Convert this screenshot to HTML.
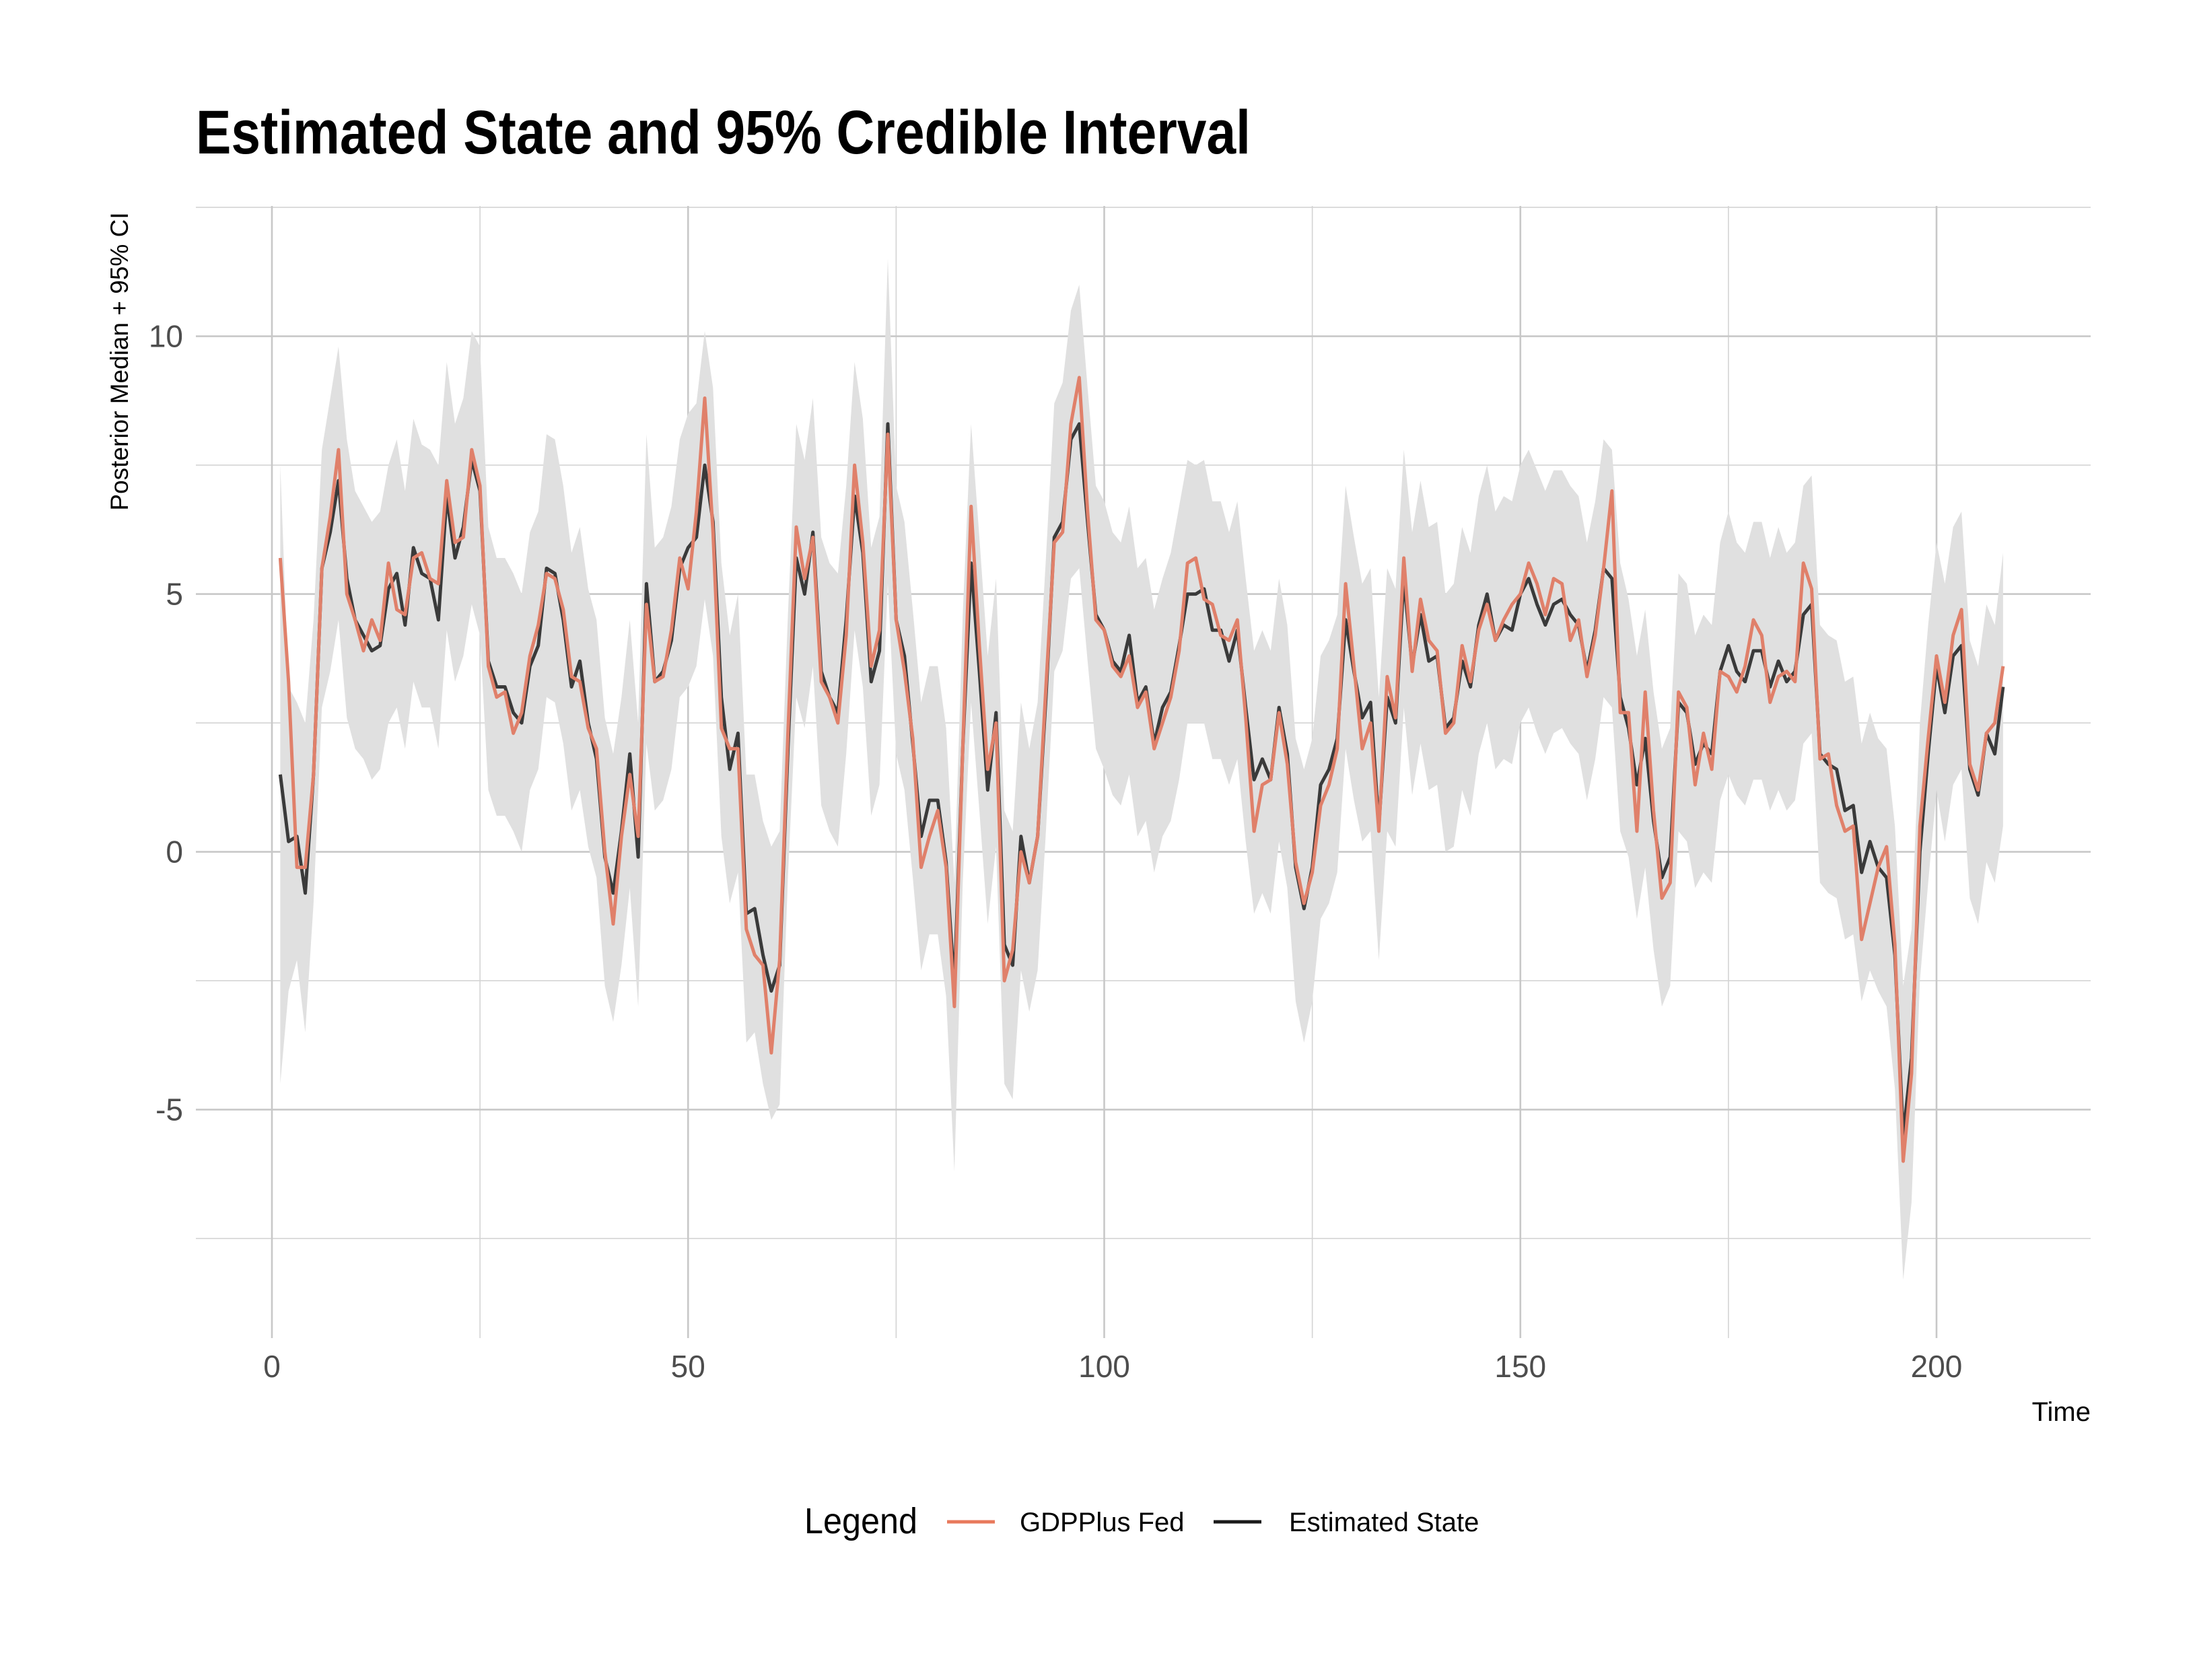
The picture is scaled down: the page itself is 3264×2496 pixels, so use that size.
<!DOCTYPE html>
<html><head><meta charset="utf-8"><style>
html,body{margin:0;padding:0;background:#fff;}
svg{display:block;font-family:"Liberation Sans Narrow","Liberation Sans",sans-serif;}
</style></head><body>
<svg id="chart" width="3264" height="2496" viewBox="0 0 3264 2496" xmlns="http://www.w3.org/2000/svg">
<rect width="3264" height="2496" fill="#fff"/>
<text x="291" y="228" font-size="92" font-weight="bold" fill="#000" textLength="1567" lengthAdjust="spacingAndGlyphs">Estimated State and 95% Credible Interval</text>
<g id="grid"></g>
<g id="band"></g>
<g id="lines"></g>
<g id="axes"></g>
<text transform="translate(190,537) rotate(-90)" text-anchor="middle" font-size="37" fill="#000">Posterior Median + 95% CI</text>
<text x="3106" y="2111" text-anchor="end" font-size="40" fill="#000">Time</text>
<g>
<text x="1195" y="2278" font-size="54" fill="#000" textLength="168" lengthAdjust="spacingAndGlyphs">Legend</text>
<line x1="1407" y1="2261" x2="1478" y2="2261" stroke="#e8795c" stroke-width="5"/>
<text x="1515" y="2275" font-size="40" fill="#000">GDPPlus Fed</text>
<line x1="1803" y1="2261" x2="1874" y2="2261" stroke="#1a1a1a" stroke-width="5"/>
<text x="1915" y="2275" font-size="40" fill="#000">Estimated State</text>
</g>
</svg>
<script>
const stateVals=[1.5,0.2,0.3,-0.8,1.5,5.5,6.2,7.2,5.3,4.5,4.2,3.9,4.0,5.1,5.4,4.4,5.9,5.4,5.3,4.5,6.9,5.7,6.3,7.6,7.0,3.7,3.2,3.2,2.7,2.5,3.6,4.0,5.5,5.4,4.5,3.2,3.7,2.5,1.8,-0.1,-0.8,0.4,1.9,-0.1,5.2,3.3,3.5,4.1,5.5,5.9,6.1,7.5,6.4,3.0,1.6,2.3,-1.2,-1.1,-2.0,-2.7,-2.2,2.0,5.7,5.0,6.2,3.5,3.0,2.7,4.5,6.9,5.8,3.3,3.9,8.3,4.5,3.8,2.1,0.3,1.0,1.0,-0.2,-2.6,2.0,5.6,3.5,1.2,2.7,-1.8,-2.2,0.3,-0.6,0.3,3.0,6.1,6.4,8.0,8.3,6.4,4.6,4.3,3.7,3.5,4.2,2.9,3.2,2.1,2.8,3.1,4.0,5.0,5.0,5.1,4.3,4.3,3.7,4.3,2.8,1.4,1.8,1.4,2.8,1.9,-0.3,-1.1,-0.3,1.3,1.6,2.2,4.5,3.5,2.6,2.9,0.5,3.0,2.5,5.3,3.6,4.6,3.7,3.8,2.4,2.6,3.7,3.2,4.4,5.0,4.1,4.4,4.3,5.0,5.3,4.8,4.4,4.8,4.9,4.6,4.4,3.5,4.3,5.5,5.3,3.0,2.4,1.3,2.2,0.6,-0.5,-0.1,2.9,2.7,1.7,2.1,1.9,3.5,4.0,3.5,3.3,3.9,3.9,3.2,3.7,3.3,3.5,4.6,4.8,1.9,1.7,1.6,0.8,0.9,-0.4,0.2,-0.3,-0.5,-2.0,-5.5,-4.0,0.0,1.9,3.6,2.7,3.8,4.0,1.6,1.1,2.3,1.9,3.2];
const gdpVals=[5.7,3.3,-0.3,-0.3,1.5,5.5,6.5,7.8,5.0,4.5,3.9,4.5,4.1,5.6,4.7,4.6,5.7,5.8,5.3,5.2,7.2,6.0,6.1,7.8,7.1,3.6,3.0,3.1,2.3,2.7,3.8,4.4,5.4,5.3,4.7,3.4,3.3,2.4,2.0,0.0,-1.4,0.3,1.5,0.3,4.8,3.3,3.4,4.3,5.7,5.1,6.6,8.8,6.2,2.4,2.0,2.0,-1.5,-2.0,-2.2,-3.9,-2.1,2.3,6.3,5.3,6.1,3.3,3.0,2.5,4.2,7.5,6.0,3.6,4.3,8.1,4.5,3.5,2.2,-0.3,0.3,0.8,-0.3,-3.0,2.0,6.7,4.0,1.6,2.5,-2.5,-1.9,0.0,-0.6,0.3,3.2,6.0,6.2,8.3,9.2,6.6,4.5,4.3,3.6,3.4,3.8,2.8,3.1,2.0,2.5,3.0,3.9,5.6,5.7,4.9,4.8,4.2,4.1,4.5,2.6,0.4,1.3,1.4,2.7,1.7,-0.2,-1.0,-0.4,0.9,1.3,2.0,5.2,3.6,2.0,2.5,0.4,3.4,2.6,5.7,3.5,4.9,4.1,3.9,2.3,2.5,4.0,3.3,4.3,4.8,4.1,4.5,4.8,5.0,5.6,5.2,4.6,5.3,5.2,4.1,4.5,3.4,4.2,5.5,7.0,2.7,2.7,0.4,3.1,0.8,-0.9,-0.6,3.1,2.8,1.3,2.3,1.6,3.5,3.4,3.1,3.6,4.5,4.2,2.9,3.4,3.5,3.3,5.6,5.1,1.8,1.9,0.9,0.4,0.5,-1.7,-1.0,-0.3,0.1,-1.8,-6.0,-4.3,0.5,2.2,3.8,2.9,4.2,4.7,1.7,1.2,2.3,2.5,3.6];
const upperVals=[7.5,3.2,2.9,2.5,4.5,7.8,8.8,9.8,8,7,6.7,6.4,6.6,7.5,8,7,8.4,7.9,7.8,7.5,9.5,8.3,8.8,10.1,9.8,6.3,5.7,5.7,5.4,5,6.2,6.6,8.1,8,7.1,5.8,6.3,5.1,4.5,2.6,1.9,3,4.5,2.5,8.1,5.9,6.1,6.7,8,8.5,8.7,10.1,9,5.6,4.2,5,1.5,1.5,0.6,0.1,0.4,4.6,8.3,7.6,8.8,6.1,5.6,5.4,7.1,9.5,8.4,5.9,6.5,11.5,7.1,6.4,4.7,2.9,3.6,3.6,2.4,-0.6,4.6,8.3,6.1,3.8,5.3,0.8,0.4,2.9,2,2.9,5.7,8.7,9.1,10.5,11,9,7.1,6.8,6.2,6,6.7,5.5,5.7,4.7,5.3,5.8,6.7,7.6,7.5,7.6,6.8,6.8,6.2,6.8,5.3,3.9,4.3,3.9,5.3,4.4,2.2,1.6,2.2,3.8,4.1,4.6,7.1,6.1,5.2,5.5,3,5.5,5.1,7.8,6.2,7.2,6.3,6.4,5,5.2,6.3,5.8,6.9,7.5,6.6,6.9,6.8,7.5,7.8,7.4,7,7.4,7.4,7.1,6.9,6,6.8,8,7.8,5.6,4.9,3.8,4.7,3.1,2,2.4,5.4,5.2,4.2,4.6,4.4,6,6.6,6,5.8,6.4,6.4,5.7,6.3,5.8,6,7.1,7.3,4.4,4.2,4.1,3.3,3.4,2.1,2.7,2.2,2,0.5,-2.6,-1.5,2.5,4.4,6,5.2,6.3,6.6,4.1,3.6,4.8,4.4,5.8];
const lowerVals=[-4.5,-2.7,-2.1,-3.5,-1,2.8,3.5,4.5,2.6,2,1.8,1.4,1.6,2.5,2.8,2,3.3,2.8,2.8,2,4.3,3.3,3.8,4.8,4.2,1.2,0.7,0.7,0.4,0,1.2,1.6,3,2.9,2.1,0.8,1.2,0.1,-0.5,-2.6,-3.3,-2.2,-0.7,-3,2.1,0.8,1,1.6,3,3.2,3.6,4.9,3.8,0.3,-1,-0.4,-3.7,-3.5,-4.5,-5.2,-4.9,-0.5,3,2.4,3.6,0.9,0.4,0.1,1.9,4.3,3.2,0.7,1.3,5.2,1.9,1.2,-0.5,-2.3,-1.6,-1.6,-2.8,-6.2,-0.6,2.9,0.8,-1.4,0.1,-4.5,-4.8,-2.3,-3.1,-2.3,0.4,3.5,3.9,5.3,5.5,3.7,2,1.6,1.1,0.9,1.5,0.3,0.6,-0.4,0.3,0.6,1.4,2.5,2.5,2.5,1.8,1.8,1.3,1.8,0.2,-1.2,-0.8,-1.2,0.2,-0.7,-2.9,-3.7,-2.9,-1.3,-1,-0.4,2,1,0.2,0.4,-2.1,0.4,0.1,2.8,1.1,2.1,1.2,1.3,0,0.1,1.2,0.7,1.9,2.5,1.6,1.8,1.7,2.5,2.8,2.3,1.9,2.3,2.4,2.1,1.9,1,1.8,3,2.8,0.4,-0.1,-1.3,-0.3,-1.9,-3,-2.6,0.4,0.2,-0.7,-0.4,-0.6,1,1.5,1.1,0.9,1.4,1.4,0.8,1.2,0.8,1,2.1,2.3,-0.6,-0.8,-0.9,-1.7,-1.6,-2.9,-2.3,-2.7,-3,-4.6,-8.3,-6.8,-2.5,-0.6,1.2,0.2,1.3,1.6,-0.9,-1.4,-0.2,-0.6,0.5];
const xTicks=[0,50,100,150,200];
const xMinor=[25,75,125,175];
const yTicks=[-5,0,5,10];
const yMinor=[-7.5,-2.5,2.5,7.5,12.5];

const NS='http://www.w3.org/2000/svg';
const L=291,R=3106,T=306,B=1988;
function X(t){return 404+t*12.365;}
function Y(v){return 1265.6-v*76.6;}
function mk(tag,attrs,parent){const e=document.createElementNS(NS,tag);for(const k in attrs)e.setAttribute(k,attrs[k]);parent.appendChild(e);return e;}
const grid=document.getElementById('grid'),axes=document.getElementById('axes');
yMinor.forEach(v=>{const l=mk('line',{x1:L,x2:R,y1:Y(v),y2:Y(v),stroke:'#d4d4d4','stroke-width':1.6},grid);

});
xMinor.forEach(v=>{const l=mk('line',{x1:X(v),x2:X(v),y1:T,y2:B,stroke:'#d4d4d4','stroke-width':1.6},grid);

});
yTicks.forEach(v=>{const l=mk('line',{x1:L,x2:R,y1:Y(v),y2:Y(v),stroke:'#c8c8c8','stroke-width':2.6},grid);


const t=mk('text',{x:272,y:Y(v)+16,'text-anchor':'end','font-size':46,fill:'#4d4d4d'},axes);


t.textContent=v;});
xTicks.forEach(v=>{const l=mk('line',{x1:X(v),x2:X(v),y1:T,y2:B,stroke:'#c8c8c8','stroke-width':2.6},grid);


const t=mk('text',{x:X(v),y:2046,'text-anchor':'middle','font-size':46,fill:'#4d4d4d'},axes);


t.textContent=v;});
let d='';
upperVals.forEach((v,i)=>{d+=(i?'L':'M')+X(i+1).toFixed(1)+','+Y(v).toFixed(1);});
for(let i=lowerVals.length-1;i>=0;i--)d+='L'+X(i+1).toFixed(1)+','+Y(lowerVals[i]).toFixed(1);
const band=mk('path',{d:d+'Z',fill:'#e0e0e0'},document.getElementById('band'));


function line(vals){return vals.map((v,i)=>(i?'L':'M')+X(i+1).toFixed(1)+','+Y(v).toFixed(1)).join('');}
const lg=document.getElementById('lines');
const s=mk('path',{d:line(stateVals),fill:'none',stroke:'#3a3a3a','stroke-width':5,'stroke-linejoin':'round'},lg);


const g=mk('path',{d:line(gdpVals),fill:'none',stroke:'#e0806a','stroke-width':5,'stroke-linejoin':'round'},lg);


</script>
</body></html>
